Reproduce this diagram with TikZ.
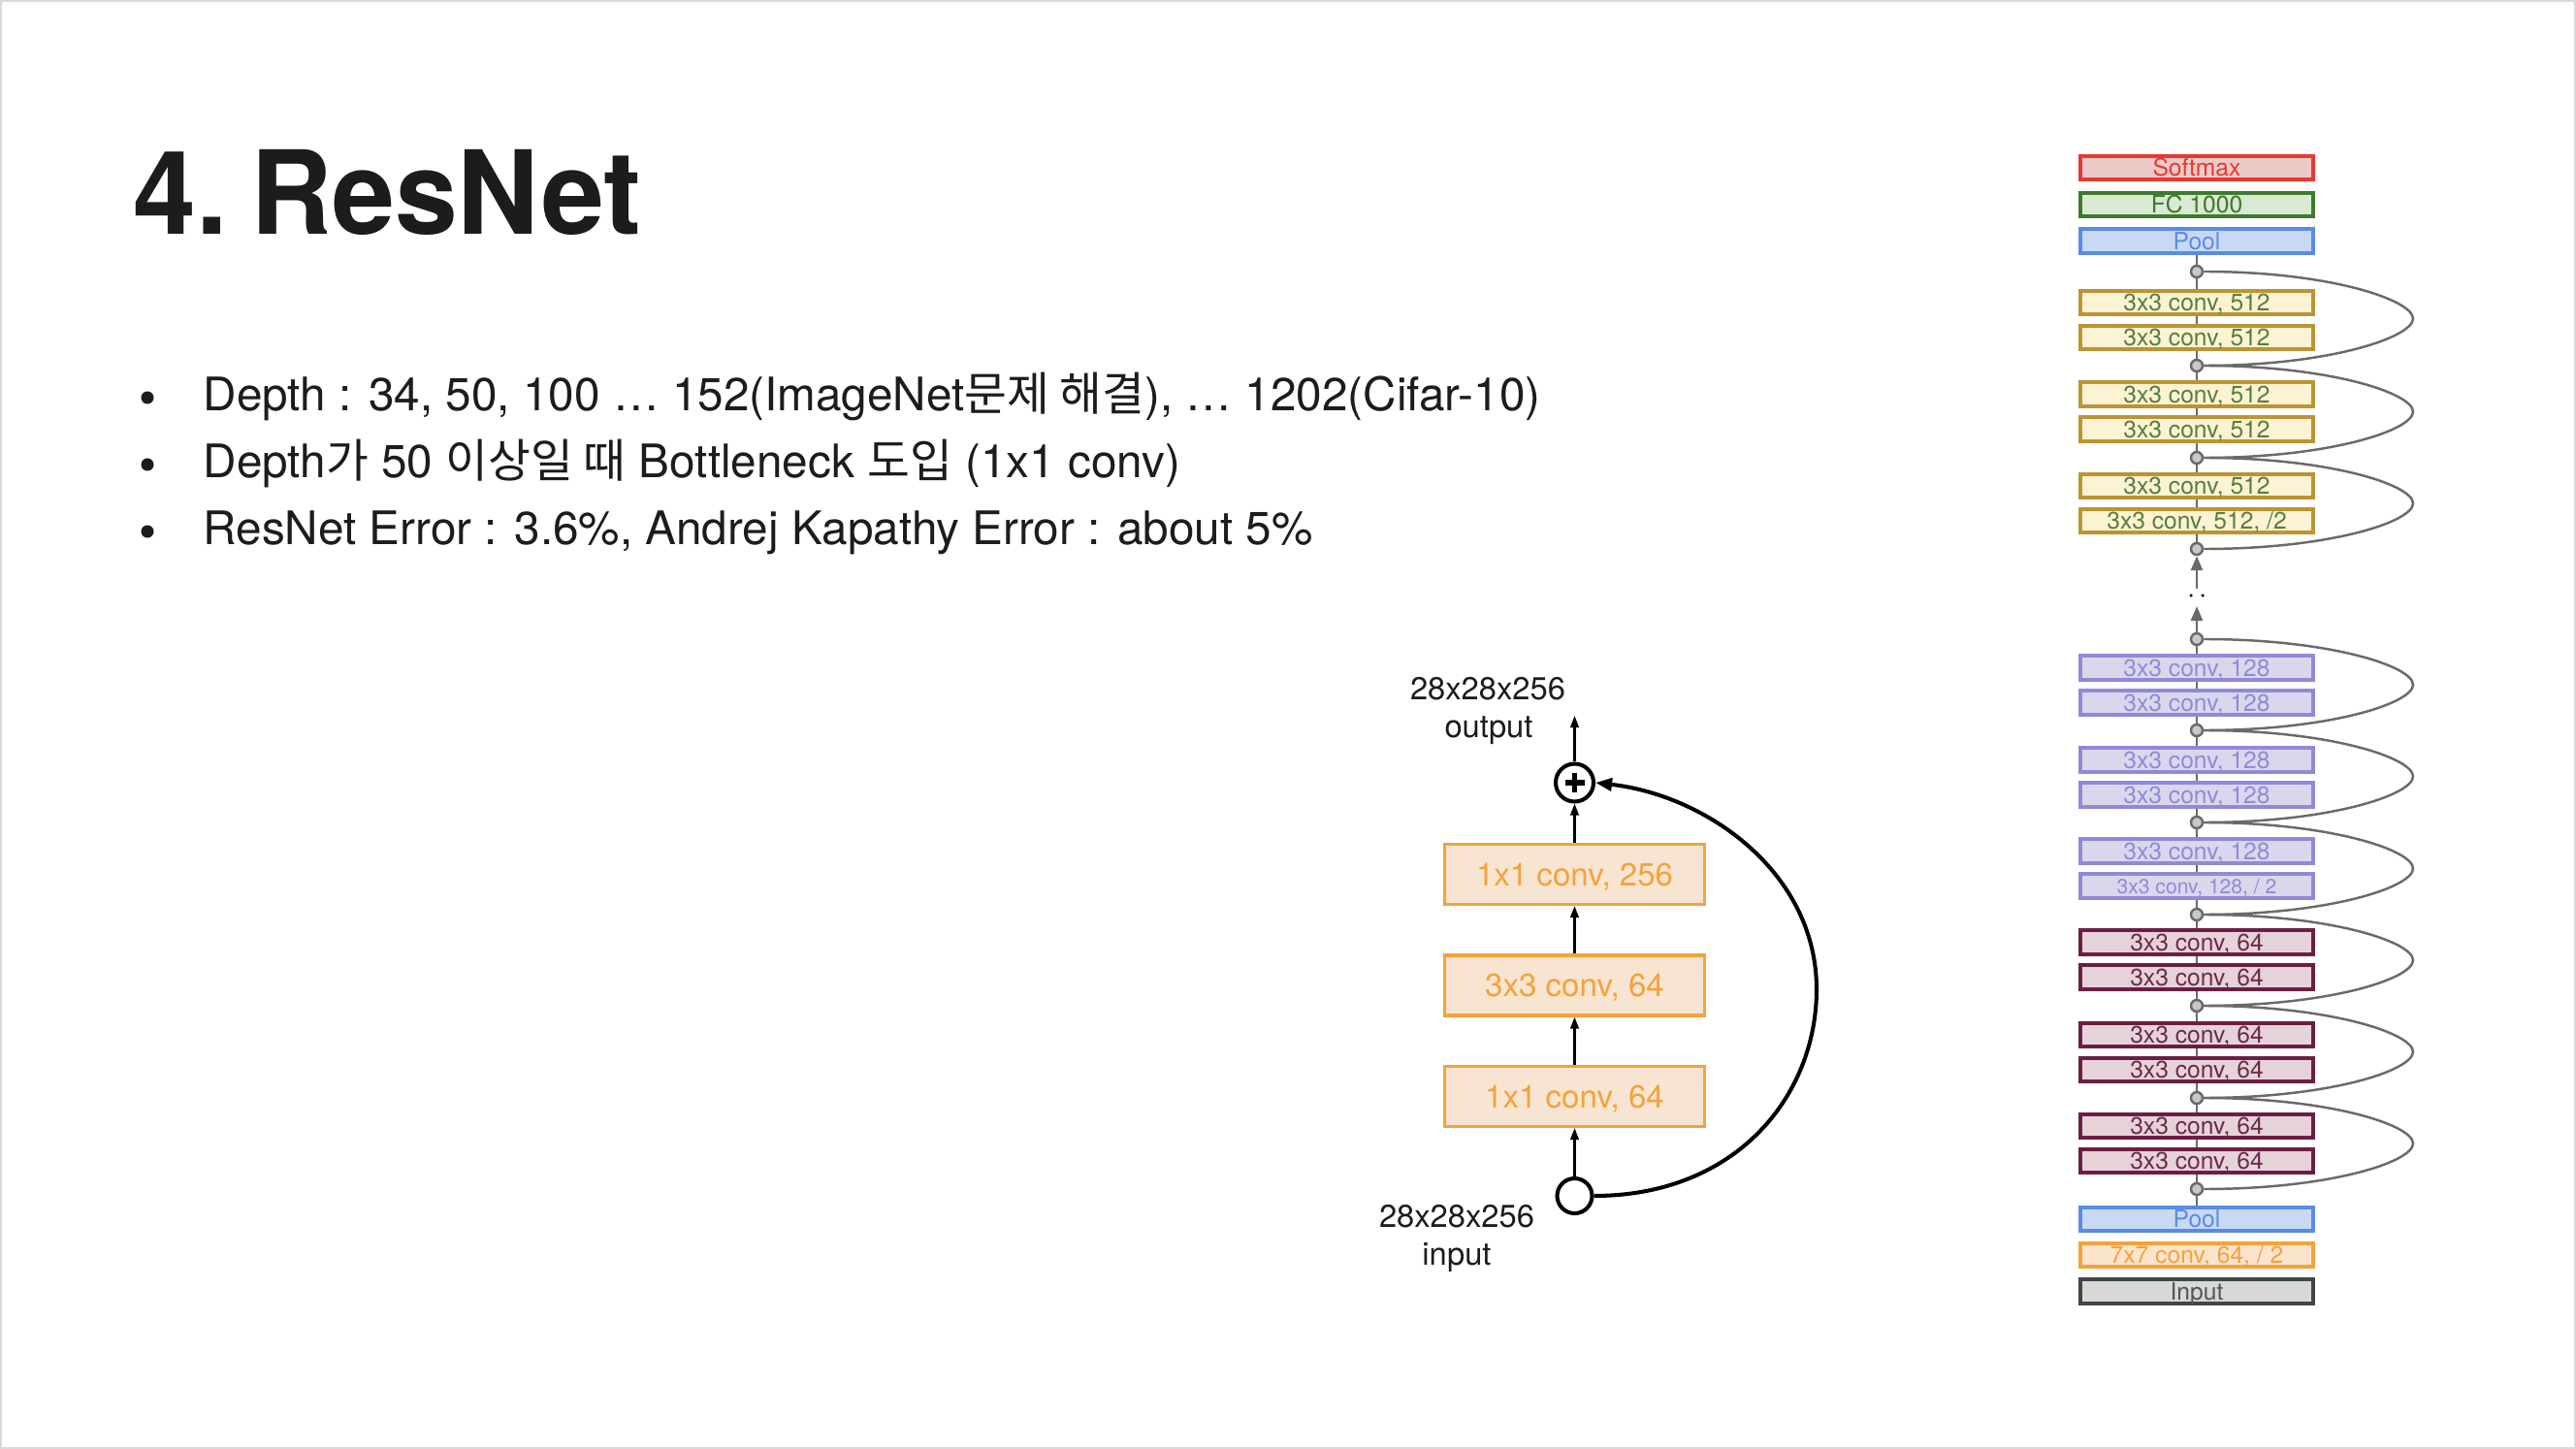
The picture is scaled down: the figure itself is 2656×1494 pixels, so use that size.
\documentclass[tikz,border=0pt]{standalone}
\usepackage{fontspec}
\setmainfont{TeX Gyre Heros}
\newfontfamily\kr{Noto Sans CJK KR}
\usetikzlibrary{arrows.meta,calc}

% column palette
\definecolor{smred}{HTML}{E63A30}
\definecolor{smfill}{HTML}{EDCACA}
\definecolor{fcgreen}{HTML}{3E7A2C}
\definecolor{fcfill}{HTML}{D9E9D3}
\definecolor{poolblue}{HTML}{5A8BE6}
\definecolor{poolfill}{HTML}{C9D9F3}
\definecolor{goldline}{HTML}{BB9433}
\definecolor{goldfill}{HTML}{FCF2D4}
\definecolor{goldtext}{HTML}{55803A}
\definecolor{lavline}{HTML}{8F8AD8}
\definecolor{lavfill}{HTML}{DAD7EC}
\definecolor{maroon}{HTML}{6B1E45}
\definecolor{maroonfill}{HTML}{E6D3DA}
\definecolor{maroontext}{HTML}{6B2A4B}
\definecolor{orline}{HTML}{F4A23B}
\definecolor{orfill}{HTML}{FBE4CC}
\definecolor{inline}{HTML}{444444}
\definecolor{infill}{HTML}{D8D8D8}
\definecolor{intext}{HTML}{555555}
\definecolor{jgray}{HTML}{6A6A6A}
\definecolor{jfill}{HTML}{C8C8C8}
% bottleneck palette
\definecolor{bnline}{HTML}{F4A23B}
\definecolor{bnfill}{HTML}{F8E5D1}
\definecolor{inktext}{HTML}{1C1C1C}

% skip connection on the right of the layer column
\newcommand{\resskip}[2]{%
  \draw[skipline] (#1.east) .. controls +(130,0) and +(0,-19) ..
    ($(#1)!0.5!(#2)+(223,0)$) .. controls +(0,19) and +(130,0) .. (#2.east);}

\begin{document}
\begin{tikzpicture}[x=0.01cm,y=-0.01cm,
  colbox/.style={draw, rectangle, line width=1.05pt, minimum width=2.40cm,
    minimum height=0.245cm, inner sep=0pt, text height=4.9pt, text depth=0pt,
    font=\fontsize{7}{7}\selectfont},
  softmaxbox/.style={colbox, draw=smred, fill=smfill, text=smred},
  fcbox/.style={colbox, draw=fcgreen, fill=fcfill, text=fcgreen},
  poolbox/.style={colbox, draw=poolblue, fill=poolfill, text=poolblue},
  box512/.style={colbox, draw=goldline, fill=goldfill, text=goldtext},
  box128/.style={colbox, draw=lavline, fill=lavfill, text=lavline},
  box64/.style={colbox, draw=maroon, fill=maroonfill, text=maroontext},
  box7/.style={colbox, draw=orline, fill=orfill, text=orline},
  inputbox/.style={colbox, draw=inline, fill=infill, text=intext},
  junction/.style={circle, draw=jgray, fill=jfill, line width=0.7pt,
    minimum size=0.12cm, inner sep=0pt},
  colline/.style={draw=jgray, line width=0.75pt},
  colarrow/.style={colline, -{Triangle[length=0.15cm,width=0.12cm]}},
  skipline/.style={draw=jgray, line width=0.7pt},
  bnbox/.style={draw=bnline, fill=bnfill, text=bnline, line width=1.0pt,
    minimum width=2.675cm, minimum height=0.615cm, inner sep=0pt,
    text height=6.6pt, text depth=0pt, font=\fontsize{9.4}{11}\selectfont},
  bnarrow/.style={draw=black, line width=0.65pt,
    -{Triangle[length=0.12cm,width=0.085cm]}},
  bnskip/.style={draw=black, line width=1.15pt,
    -{Triangle[length=0.17cm,width=0.13cm]}},
  lbl/.style={inner sep=0pt, text=inktext, font=\fontsize{9.3}{11}\selectfont},
  bullettext/.style={inner sep=0pt, anchor=base west, text=inktext,
    font=\fontsize{13.55}{16}\selectfont},
  bulletdot/.style={circle, fill=inktext, inner sep=0pt, minimum size=0.13cm}
]
\useasboundingbox (0,0) rectangle (2656,1494);
\fill[white] (0,0) rectangle (2656,1494);
\draw[black!15, line width=0.6pt] (1,1) rectangle (2655,1493);

% ---------- title ----------
\node[inner sep=0pt, anchor=base west, text=inktext,
  font=\fontsize{34}{40}\bfseries] (title) at (137,242)
  {\scalebox{0.975}[1]{4.\hspace{0.2em}ResNet}};

% ---------- bullet list ----------
\node[bulletdot] (m1) at (152,410) {};
\node[bulletdot] (m2) at (152,479) {};
\node[bulletdot] (m3) at (152,548) {};
\node[bullettext] (t1) at (209,423)
  {Depth : 34, 50, 100 … 152(ImageNet{\kr 문제 해결}), … 1202(Cifar-10)};
\node[bullettext] (t2) at (209,492)
  {Depth{\kr 가} 50 {\kr 이상일 때} Bottleneck {\kr 도입} (1x1 conv)};
\node[bullettext] (t3) at (209,561)
  {ResNet Error : 3.6\%, Andrej Kapathy Error : about 5\%};

% ---------- bottleneck block ----------
\node[bnbox] (b1) at (1623.5,901.5) {1x1 conv, 256};
\node[bnbox] (b2) at (1623.5,1016) {3x3 conv, 64};
\node[bnbox] (b3) at (1623.5,1130.5) {1x1 conv, 64};
\node[circle, draw=black, fill=white, line width=1.15pt, minimum size=0.39cm,
  inner sep=0pt,
  path picture={
    \draw[line width=1.5pt] ($(path picture bounding box.center)+(-10,0)$) -- ++(20,0);
    \draw[line width=1.5pt] ($(path picture bounding box.center)+(0,-10)$) -- ++(0,20);
  }] (add) at (1623.5,807) {};
\node[circle, draw=black, fill=white, line width=1.15pt, minimum size=0.36cm,
  inner sep=0pt] (inp) at (1623.5,1233) {};
\coordinate (outtip) at (1623.5,738);

\draw[bnarrow] (inp) -- (b3);
\draw[bnarrow] (b3) -- (b2);
\draw[bnarrow] (b2) -- (b1);
\draw[bnarrow] (b1) -- (add);
\draw[bnarrow] (add) -- (outtip);
\draw[bnskip] (inp.east) .. controls (1790,1233) and (1873,1130) .. (1873,1020)
  .. controls (1873,900) and (1760,820) .. (add.east);

\node[lbl, anchor=base] (outdim) at (1534,721) {28x28x256};
\node[lbl, anchor=base] (outname) at (1535,760) {output};
\node[lbl, anchor=base] (indim) at (1502,1265) {28x28x256};
\node[lbl, anchor=base] (inname) at (1502,1304) {input};

% ---------- layer column ----------
\node[softmaxbox] (softmax) at (2265,173) {Softmax};
\node[fcbox] (fc) at (2265,211) {FC 1000};
\node[poolbox] (pooltop) at (2265,248.5) {Pool};

\node[junction] (j1) at (2265,280) {};
\node[box512] (c5a) at (2265,312) {3x3 conv, 512};
\node[box512] (c5b) at (2265,348) {3x3 conv, 512};
\node[junction] (j2) at (2265,377) {};
\node[box512] (c5c) at (2265,406.5) {3x3 conv, 512};
\node[box512] (c5d) at (2265,442.5) {3x3 conv, 512};
\node[junction] (j3) at (2265,472) {};
\node[box512] (c5e) at (2265,501) {3x3 conv, 512};
\node[box512] (c5f) at (2265,537) {3x3 conv, 512, /2};
\node[junction] (j4) at (2265,566) {};

\node[junction] (j5) at (2265,659) {};
\node[box128] (c1a) at (2265,688.5) {3x3 conv, 128};
\node[box128] (c1b) at (2265,724.5) {3x3 conv, 128};
\node[junction] (j6) at (2265,753) {};
\node[box128] (c1c) at (2265,783.5) {3x3 conv, 128};
\node[box128] (c1d) at (2265,819.5) {3x3 conv, 128};
\node[junction] (j7) at (2265,848) {};
\node[box128] (c1e) at (2265,877.5) {3x3 conv, 128};
\node[box128, font=\fontsize{6}{7}\selectfont, text height=4.3pt] (c1f)
  at (2265,913.5) {3x3 conv, 128, / 2};
\node[junction] (j8) at (2265,943) {};

\node[box64] (c6a) at (2265,971.5) {3x3 conv, 64};
\node[box64] (c6b) at (2265,1007.5) {3x3 conv, 64};
\node[junction] (j9) at (2265,1037) {};
\node[box64] (c6c) at (2265,1067) {3x3 conv, 64};
\node[box64] (c6d) at (2265,1103) {3x3 conv, 64};
\node[junction] (j10) at (2265,1132) {};
\node[box64] (c6e) at (2265,1161) {3x3 conv, 64};
\node[box64] (c6f) at (2265,1197) {3x3 conv, 64};
\node[junction] (j11) at (2265,1226) {};

\node[poolbox] (poolbot) at (2265,1257) {Pool};
\node[box7] (c7) at (2265,1294) {7x7 conv, 64, / 2};
\node[inputbox] (input) at (2265,1331.5) {Input};

% main path through the column
\draw[colline] (pooltop) -- (j1) -- (c5a) -- (c5b) -- (j2) -- (c5c) -- (c5d)
  -- (j3) -- (c5e) -- (c5f) -- (j4);
\draw[colline] (j5) -- (c1a) -- (c1b) -- (j6) -- (c1c) -- (c1d) -- (j7)
  -- (c1e) -- (c1f) -- (j8) -- (c6a) -- (c6b) -- (j9) -- (c6c) -- (c6d)
  -- (j10) -- (c6e) -- (c6f) -- (j11) -- (poolbot);

% elided layers between the two stages
\coordinate (gapA) at (2265,607);
\coordinate (gapB) at (2265,625);
\draw[colarrow] (gapA) -- (j4);
\draw[colarrow] (j5) -- (gapB);
\fill[black] (2259,614) circle (0.5pt);
\fill[black] (2271,614) circle (0.5pt);

% shortcut connections
\resskip{j1}{j2}
\resskip{j2}{j3}
\resskip{j3}{j4}
\resskip{j5}{j6}
\resskip{j6}{j7}
\resskip{j7}{j8}
\resskip{j8}{j9}
\resskip{j9}{j10}
\resskip{j10}{j11}
\end{tikzpicture}
\end{document}
